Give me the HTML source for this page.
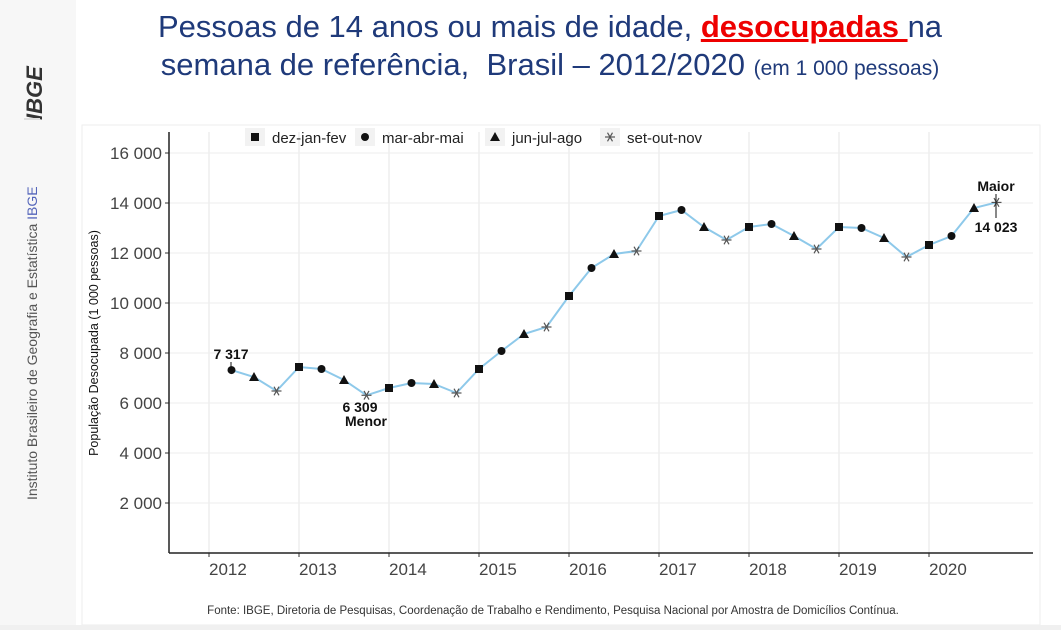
<!DOCTYPE html>
<html><head><meta charset="utf-8"><style>
body{margin:0;width:1061px;height:630px;overflow:hidden;background:#fff;font-family:"Liberation Sans",sans-serif;position:relative}
.side{position:absolute;left:0;top:0;width:76px;height:630px;background:#f7f7f7}
.title{position:absolute;left:80px;top:8px;width:940px;text-align:center;color:#1f3a7a;font-size:31px;line-height:38px}
</style></head><body>
<div class="side">
<svg width="76" height="630">
<text transform="translate(42,120) rotate(-90)" font-size="22" font-weight="bold" font-style="italic" fill="#333">IBGE</text>
<rect x="24" y="118" width="16" height="2" fill="#ddd"/>
<text transform="translate(37,500) rotate(-90)" font-size="14" fill="#555">Instituto Brasileiro de Geografia e Estatística <tspan fill="#5566bb">IBGE</tspan></text>
</svg></div>
<div class="title">Pessoas de 14 anos ou mais de idade, <span style="color:#e00;font-weight:bold;text-decoration:underline">desocupadas </span>na<br>semana de referência,&nbsp; Brasil – 2012/2020 <span style="font-size:21px">(em 1 000 pessoas)</span></div>
<svg id="ch" width="1061" height="630" style="position:absolute;left:0;top:0">
<rect x="82" y="125" width="958" height="500" fill="#fff" stroke="#eee"/>
<rect x="0" y="625" width="1061" height="5" fill="#f0f0f0"/>
</svg>
<script>
const years=[2012,2013,2014,2015,2016,2017,2018,2019,2020];
const yTicks=[2000,4000,6000,8000,10000,12000,14000,16000];
const yTickLabels=["2 000","4 000","6 000","8 000","10 000","12 000","14 000","16 000"];
const quarterIndex=[1,2,3,4,5,6,7,8,9,10,11,12,13,14,15,16,17,18,19,20,21,22,23,24,25,26,27,28,29,30,31,32,33,34,35];
const values=[7317,7040,6480,7440,7360,6920,6309,6600,6800,6760,6400,7360,8080,8760,9040,10280,11400,11960,12080,13480,13720,13040,12520,13040,13160,12680,12160,13040,13000,12600,11840,12320,12680,13800,14023];
const legendLabels=["dez-jan-fev","mar-abr-mai","jun-jul-ago","set-out-nov"];
const NS="http://www.w3.org/2000/svg",svg=document.getElementById('ch');
const X=i=>209+i*22.5, Y=v=>553-v*0.025;
function mk(t,a,p){const e=document.createElementNS(NS,t);for(const k in a)e.setAttribute(k,a[k]);(p||svg).appendChild(e);return e;}
for(const y of years){const gx=209+(y-2012)*90;
 const g=mk('line',{x1:gx,x2:gx,y1:132,y2:553,stroke:'#e6e6e6'});
 
 mk('line',{x1:gx,x2:gx,y1:553,y2:557,stroke:'#333'});
 const t=mk('text',{x:gx,y:575,'font-size':17,fill:'#444'});t.textContent=y;
 }
yTicks.forEach((v,i)=>{const gy=Y(v);
 const g=mk('line',{x1:169,x2:1033,y1:gy,y2:gy,stroke:'#eeeeee'});
 
 mk('line',{x1:165,x2:169,y1:gy,y2:gy,stroke:'#333'});
 const t=mk('text',{x:162,y:gy+6,'font-size':17,fill:'#444','text-anchor':'end'});t.textContent=yTickLabels[i];
 });
mk('line',{x1:169,x2:169,y1:132,y2:553,stroke:'#222','stroke-width':1.5});
mk('line',{x1:169,x2:1033,y1:553,y2:553,stroke:'#222','stroke-width':1.5});
const yt=mk('text',{transform:'translate(98,343) rotate(-90)','font-size':12.5,fill:'#111','text-anchor':'middle'});yt.textContent='População Desocupada (1 000 pessoas)';

const ln=mk('polyline',{points:values.map((v,i)=>X(quarterIndex[i])+','+Y(v)).join(' '),fill:'none',stroke:'#8ec9ea','stroke-width':2});

function marker(type,x,y,p){
 if(type===0)return mk('rect',{x:x-4,y:y-4,width:8,height:8,fill:'#111'},p);
 if(type===1)return mk('circle',{cx:x,cy:y,r:4,fill:'#111'},p);
 if(type===2)return mk('path',{d:`M${x},${y-5}L${x+5},${y+4}L${x-5},${y+4}Z`,fill:'#111'},p);
 const g=mk('g',{stroke:'#555','stroke-width':1.2},p);
 for(const a of [0,60,120]){const r=a*Math.PI/180;mk('line',{x1:x-5*Math.cos(r),y1:y-5*Math.sin(r),x2:x+5*Math.cos(r),y2:y+5*Math.sin(r)},g);}
 return g;}
values.forEach((v,i)=>{const q=quarterIndex[i]%4;
 const m=marker(q,X(quarterIndex[i]),Y(v));
 });
// legend
const lx=[245,355,485,600];
legendLabels.forEach((l,i)=>{const g=mk('g',{});
 
 mk('rect',{x:lx[i],y:128,width:20,height:18,fill:'#f2f2f2'},g);
 marker(i,lx[i]+10,137,g);
 const t=mk('text',{x:lx[i]+27,y:143,'font-size':15,fill:'#222'},g);t.textContent=l;});
// annotations
function lab(txt,x,y,name,anchor){const t=mk('text',{x:x,y:y,'font-size':14,'font-weight':'bold',fill:'#111','text-anchor':anchor||'middle'});t.textContent=txt;
 }
lab('7 317',231,359,'label-first');mk('line',{x1:231,x2:231,y1:362,y2:371,stroke:'#111'});
lab('6 309',360,412,'label-min');lab('Menor',366,426,'label-min-text');
lab('Maior',996,191,'label-max-text');lab('14 023',996,232,'label-max');
mk('line',{x1:996,x2:996,y1:194,y2:218,stroke:'#111'});
const f=mk('text',{x:553,y:614,'font-size':11.5,fill:'#333','text-anchor':'middle'});
f.textContent='Fonte: IBGE, Diretoria de Pesquisas, Coordenação de Trabalho e Rendimento, Pesquisa Nacional por Amostra de Domicílios Contínua.';

</script>
</body></html>
